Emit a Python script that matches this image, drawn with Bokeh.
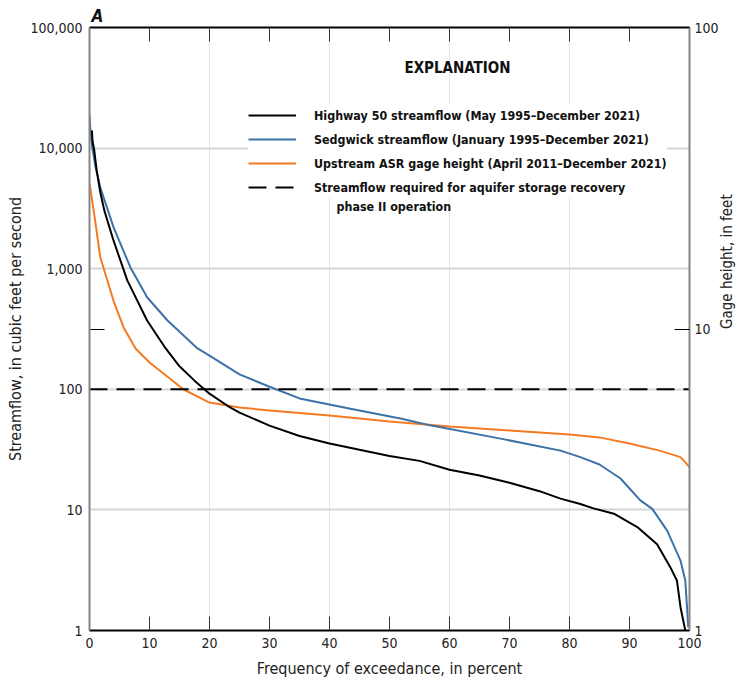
import math
from bokeh.plotting import figure
from bokeh.models import (Range1d, LogScale, LogAxis, LinearAxis, FixedTicker,
                          NumeralTickFormatter, Legend, LegendItem, Label, Grid)
from bokeh.embed import file_html
from bokeh.resources import INLINE

# ---------------- data ----------------
hwy_pct = [0.4, 0.5, 0.8, 1.2, 1.8, 2.5, 4.0, 6.3, 9.6, 12.7, 15, 17.5, 20, 23, 25, 30,
           35, 40, 45, 50, 55, 60, 65, 70, 75, 78.5, 81.8, 84, 87.4, 91.3, 94.6, 96.8,
           97.9, 98.5, 99.3]
hwy_cfs = [14000, 11500, 9500, 6500, 4300, 3000, 1715, 800, 372, 218, 155, 118, 92, 73, 64, 50,
           41, 35.5, 31.5, 28, 25.5, 21.5, 19.3, 16.8, 14.3, 12.4, 11.2, 10.3, 9.3, 7.2, 5.2, 3.35,
           2.6, 1.56, 1.0]

sed_pct = [0, 0.2, 0.45, 1.0, 1.8, 2.5, 4.0, 6.8, 9.6, 13, 18, 20, 25, 30, 35, 43.5, 52, 57,
           68.5, 78.5, 81.8, 85, 88.5, 91.8, 93.8, 96.3, 98.5, 99.3, 99.8]
sed_cfs = [19000, 13000, 10200, 7000, 4740, 3700, 2210, 1030, 580, 372, 218, 190, 133, 105, 84,
           69, 57, 50, 39, 31, 27.4, 23.8, 18.2, 12, 10.2, 6.7, 3.8, 2.6, 1.06]

asr_pct = [0, 0.7, 1.8, 4.0, 5.7, 7.7, 10, 15.7, 20, 25, 30, 40, 50, 60, 70, 80, 85, 90, 95,
           98.5, 99.3, 100]
asr_ft = [30.4, 24.7, 17.3, 12.4, 10.1, 8.6, 7.74, 6.3, 5.7, 5.49, 5.37, 5.17, 4.93, 4.75, 4.61,
          4.47, 4.37, 4.17, 3.95, 3.76, 3.61, 3.48]

req_pct = [0, 100]
req_cfs = [100, 100]

x_ticks = [0, 10, 20, 30, 40, 50, 60, 70, 80, 90, 100]
flow_ticks = [1, 10, 100, 1000, 10000, 100000]
flow_grid = [10, 100, 1000, 10000]
gage_ticks = [1, 10, 100]

labels = ["Highway 50 streamflow (May 1995\u2013December 2021)",
          "Sedgwick streamflow (January 1995\u2013December 2021)",
          "Upstream ASR gage height (April 2011\u2013December 2021)",
          "Streamflow required for aquifer storage recovery"]
label_line2 = "phase II operation"

FONT = "Liberation Sans Narrow, DejaVu Sans Condensed, Roboto, sans-serif"
BLACK = "#000000"
BLUE = "#3d72a8"
ORANGE = "#f47b22"
AXGRAY = "#858585"
TXT = "#222222"

# ---------------- figure ----------------
p = figure(frame_width=600, frame_height=603,
           x_range=Range1d(0, 100), y_range=Range1d(1, 100000),
           y_axis_type="log", x_axis_location=None, y_axis_location=None,
           output_backend="svg", toolbar_location=None,
           min_border_left=89, min_border_top=27, min_border_right=52, min_border_bottom=45)
p.outline_line_color = None
p.background_fill_color = "white"
p.border_fill_color = "white"

p.title.text = "A"
p.title.text_font = FONT
p.title.text_font_size = "17px"
p.title.text_font_style = "bold italic"
p.title.text_color = "#111111"
p.title.align = "left"
p.title.offset = 2
p.title.standoff = 4

p.extra_y_ranges = {"gage": Range1d(1, 100)}
p.extra_y_scales = {"gage": LogScale()}

# grid
grid = Grid(dimension=1, ticker=FixedTicker(ticks=flow_grid),
            grid_line_color="#d6d6d6", grid_line_width=2)
p.add_layout(grid)

# left: tick-only axis mirroring the gage-height tick
lt = LogAxis(y_range_name="gage", ticker=FixedTicker(ticks=[10]),
             axis_line_color=None, major_tick_in=15, major_tick_out=0,
             major_tick_line_color=BLACK, major_tick_line_width=1,
             minor_tick_line_color=None, major_label_text_font_size="1px",
             major_label_text_color=None, major_label_standoff=0)
p.add_layout(lt, "left")

# left: streamflow axis
ly = LogAxis(ticker=FixedTicker(ticks=flow_ticks),
             formatter=NumeralTickFormatter(format="0,0"),
             axis_line_color=AXGRAY, axis_line_width=2,
             major_tick_in=0, major_tick_out=0, minor_tick_line_color=None,
             major_label_text_font=FONT, major_label_text_font_size="14px",
             major_label_text_color=TXT, major_label_standoff=7,
             axis_label="Streamflow, in cubic feet per second",
             axis_label_text_font=FONT, axis_label_text_font_size="16px",
             axis_label_text_font_style="normal", axis_label_text_color=TXT,
             axis_label_standoff=2)
p.add_layout(ly, "left")

# right: gage height axis
ry = LogAxis(y_range_name="gage", ticker=FixedTicker(ticks=gage_ticks),
             formatter=NumeralTickFormatter(format="0,0"),
             axis_line_color=AXGRAY, axis_line_width=2,
             major_tick_in=15, major_tick_out=0, major_tick_line_color=BLACK,
             major_tick_line_width=1, minor_tick_line_color=None,
             major_label_text_font=FONT, major_label_text_font_size="14px",
             major_label_text_color=TXT, major_label_standoff=5,
             axis_label="Gage height, in feet",
             axis_label_text_font=FONT, axis_label_text_font_size="15px",
             axis_label_text_font_style="normal", axis_label_text_color=TXT,
             axis_label_standoff=5, axis_label_orientation=math.pi / 2)
p.add_layout(ry, "right")

# bottom axis
bx = LinearAxis(ticker=FixedTicker(ticks=x_ticks),
                axis_line_color=BLACK, axis_line_width=2,
                major_tick_in=14, major_tick_out=0, major_tick_line_color="#333333",
                major_tick_line_width=1, minor_tick_line_color=None,
                major_label_text_font=FONT, major_label_text_font_size="14px",
                major_label_text_color=TXT, major_label_standoff=7,
                axis_label="Frequency of exceedance, in percent",
                axis_label_text_font=FONT, axis_label_text_font_size="16px",
                axis_label_text_font_style="normal", axis_label_text_color=TXT,
                axis_label_standoff=8)
p.add_layout(bx, "below")

# top axis (ticks only)
tx = LinearAxis(ticker=FixedTicker(ticks=x_ticks),
                axis_line_color=BLACK, axis_line_width=2,
                major_tick_in=14, major_tick_out=0, major_tick_line_color="#333333",
                major_tick_line_width=1, minor_tick_line_color=None,
                major_label_text_font_size="1px", major_label_text_color=None,
                major_label_standoff=0)
p.add_layout(tx, "above")

# ---------------- curves ----------------
r_asr = p.line(asr_pct, asr_ft, color=ORANGE, line_width=2, y_range_name="gage")
r_sed = p.line(sed_pct, sed_cfs, color=BLUE, line_width=2)
r_hwy = p.line(hwy_pct, hwy_cfs, color=BLACK, line_width=2)
r_req = p.line(req_pct, req_cfs, color=BLACK, line_width=2, line_dash="18 9")

# ---------------- legend ----------------
legend = Legend(items=[LegendItem(label=labels[0], renderers=[r_hwy]),
                       LegendItem(label=labels[1], renderers=[r_sed]),
                       LegendItem(label=labels[2], renderers=[r_asr]),
                       LegendItem(label=labels[3], renderers=[r_req])],
                location=(159, 433), orientation="vertical",
                glyph_width=48, glyph_height=20, label_height=20, spacing=4,
                label_standoff=18, padding=6, margin=0,
                label_text_font=FONT, label_text_font_size="12.4px",
                label_text_font_style="bold", label_text_color="#111111",
                border_line_color=None, background_fill_color="white",
                background_fill_alpha=1.0)
p.add_layout(legend, "center")

p.add_layout(Label(x=247, y=424, x_units="screen", y_units="screen", text=label_line2,
                   text_font=FONT, text_font_size="12.4px", text_font_style="bold",
                   text_color="#111111", text_baseline="middle", text_align="left",
                   level="overlay"))

p.add_layout(Label(x=368, y=563, x_units="screen", y_units="screen", text="EXPLANATION",
                   text_font=FONT, text_font_size="15px", text_font_style="bold",
                   text_color="#111111", text_baseline="middle", text_align="center"))

open("out.html", "w").write(file_html(p, INLINE))
